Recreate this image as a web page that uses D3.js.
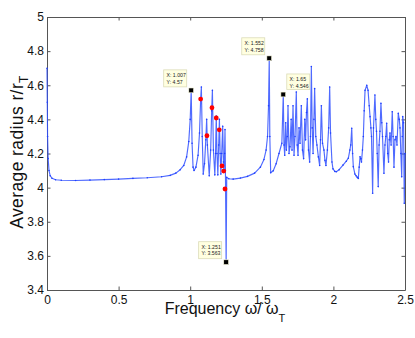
<!DOCTYPE html>
<html>
<head>
<meta charset="utf-8">
<script src="https://cdn.jsdelivr.net/npm/d3@7"></script>
<style>
  body { margin: 0; background: #fff; }
  svg text { font-family: "Liberation Sans", Arial, Helvetica, sans-serif; }
</style>
</head>
<body>
<svg id="chart" width="415" height="338"></svg>
<script>
// frequency (omega / omega_T) and average radius (r / r_T)
var freq = [
  0, 0.002, 0.004, 0.008, 0.014, 0.022, 0.035, 0.06, 0.1, 0.2, 0.3, 0.4, 0.5, 0.6, 0.7, 0.8, 0.86, 0.9, 0.93, 0.955, 0.975, 0.99, 1.0, 1.007,
  1.013, 1.02, 1.027, 1.04, 1.055, 1.065, 1.073, 1.078, 1.084, 1.091, 1.10, 1.109, 1.115, 1.12, 1.133, 1.143, 1.15, 1.155, 1.162, 1.172,
  1.177, 1.182, 1.187, 1.193, 1.199, 1.204, 1.209, 1.214, 1.22, 1.227, 1.232, 1.236, 1.24, 1.243, 1.246, 1.251, 1.255, 1.27,
  1.30, 1.35, 1.40, 1.45, 1.49, 1.515, 1.53, 1.54, 1.547, 1.552, 1.556, 1.562, 1.58, 1.60, 1.62, 1.64, 1.65,
  1.655, 1.66, 1.667, 1.672, 1.678, 1.683, 1.69, 1.697, 1.705, 1.711, 1.718, 1.725, 1.732, 1.741, 1.747, 1.753, 1.76, 1.767, 1.776,
  1.784, 1.792, 1.80, 1.806, 1.812, 1.818, 1.826, 1.834, 1.84, 1.846, 1.852, 1.858, 1.864, 1.869, 1.877, 1.885, 1.895, 1.904, 1.91,
  1.916, 1.924, 1.934, 1.941, 1.948, 1.958, 1.967, 1.974, 1.98, 1.99, 1.997, 2.01, 2.02, 2.04, 2.067, 2.09, 2.104, 2.115, 2.121, 2.128,
  2.134, 2.139, 2.15, 2.158, 2.167, 2.174, 2.18, 2.186, 2.191, 2.196, 2.203, 2.209, 2.215, 2.221, 2.233, 2.242, 2.25, 2.256, 2.262,
  2.266, 2.274, 2.28, 2.29, 2.296, 2.301, 2.306, 2.313, 2.319, 2.325, 2.332, 2.338, 2.343, 2.353, 2.36, 2.366, 2.372, 2.379, 2.385,
  2.39, 2.395, 2.403, 2.411, 2.417, 2.423, 2.43, 2.437, 2.444, 2.453, 2.46, 2.465, 2.471, 2.477, 2.481, 2.484, 2.49, 2.495, 2.5
];
var radius = [
  4.70, 4.50, 4.30, 4.17, 4.10, 4.07, 4.055, 4.046, 4.043, 4.042, 4.044, 4.047, 4.050, 4.054, 4.058, 4.064, 4.072, 4.085, 4.105, 4.13, 4.18, 4.27, 4.40, 4.57,
  4.26, 4.12, 4.10, 4.12, 4.19, 4.32, 4.52, 4.59, 4.30, 4.08, 4.14, 4.28, 4.40, 4.25, 4.07, 4.22, 4.45, 4.57, 4.22, 4.075,
  4.20, 4.42, 4.20, 4.075, 4.25, 4.40, 4.20, 4.08, 4.20, 4.36, 4.15, 4.09, 4.20, 4.34, 4.10, 3.563, 4.06, 4.052,
  4.050, 4.056, 4.066, 4.085, 4.12, 4.165, 4.22, 4.30, 4.48, 4.758, 4.30, 4.087, 4.099, 4.14, 4.20, 4.26, 4.546,
  4.25, 4.19, 4.38, 4.22, 4.30, 4.48, 4.20, 4.24, 4.40, 4.22, 4.48, 4.19, 4.30, 4.56, 4.25, 4.19, 4.35, 4.26, 4.48,
  4.22, 4.17, 4.40, 4.28, 4.44, 4.52, 4.22, 4.15, 4.30, 4.71, 4.35, 4.20, 4.40, 4.58, 4.30, 4.25, 4.18, 4.13, 4.28,
  4.48, 4.26, 4.22, 4.16, 4.13, 4.22, 4.35, 4.59, 4.32, 4.15, 4.11, 4.095, 4.093, 4.105, 4.132, 4.155, 4.172, 4.22, 4.25, 4.348,
  4.20, 4.123, 4.08, 4.07, 4.06, 4.054, 4.12, 4.181, 4.17, 4.15, 4.22, 4.30, 4.45, 4.57, 4.60, 4.57, 4.48, 4.416, 4.35,
  4.30, 3.967, 4.35, 4.543, 4.40, 4.33, 4.20, 4.006, 4.25, 4.33, 4.494, 4.38, 4.30, 4.084, 4.25, 4.30, 4.377, 4.20, 4.15,
  4.28, 4.32, 4.25, 4.445, 4.30, 4.12, 4.28, 4.30, 4.25, 4.435, 4.40, 4.35, 4.20, 4.064, 4.30, 4.416, 4.38, 3.908, 4.20
];

// red markers
var redX = [1.073, 1.117, 1.152, 1.182, 1.203, 1.222, 1.234, 1.243];
var redY = [4.519, 4.304, 4.468, 4.408, 4.339, 4.127, 4.097, 3.992];

// data tips
var tipX = [1.007, 1.552, 1.65, 1.251];
var tipY = [4.57, 4.758, 4.546, 3.563];
var tipLabelX = ["X: 1.007", "X: 1.552", "X: 1.65", "X: 1.251"];
var tipLabelY = ["Y: 4.57", "Y: 4.758", "Y: 4.546", "Y: 3.563"];

var xTicks = [0, 0.5, 1, 1.5, 2, 2.5];
var yTicks = [3.4, 3.6, 3.8, 4, 4.2, 4.4, 4.6, 4.8, 5];

(function() {
var svg = d3.select("#chart");
var mLeft = 47, mRight = 405, mTop = 17, mBottom = 290;

var x = d3.scaleLinear().domain([0, 2.5]).range([mLeft, mRight]);
var y = d3.scaleLinear().domain([3.4, 5]).range([mBottom, mTop]);

var axisColor = "#555";

// axes, ticks pointing inward
function styleAxis(g) {
  g.select(".domain").attr("stroke", axisColor).attr("stroke-width", 1);
  g.selectAll(".tick line").attr("stroke", axisColor);
  g.selectAll(".tick text").attr("fill", "#111").style("font-size", "12px")
    .style("font-family", '"Liberation Sans", Arial, sans-serif');
}

svg.append("g").attr("transform", "translate(0," + mBottom + ")")
  .call(d3.axisBottom(x).tickValues(xTicks).tickFormat(d3.format("")).tickSizeInner(-3.5).tickSizeOuter(0).tickPadding(5.5))
  .call(styleAxis);
svg.append("g").attr("transform", "translate(0," + mTop + ")")
  .call(d3.axisTop(x).tickValues(xTicks).tickFormat("").tickSizeInner(-3.5).tickSizeOuter(0))
  .call(styleAxis);
svg.append("g").attr("transform", "translate(" + mLeft + ",0)")
  .call(d3.axisLeft(y).tickValues(yTicks).tickFormat(d3.format("")).tickSizeInner(-3.5).tickSizeOuter(0).tickPadding(3))
  .call(styleAxis);
svg.append("g").attr("transform", "translate(" + mRight + ",0)")
  .call(d3.axisRight(y).tickValues(yTicks).tickFormat("").tickSizeInner(-3.5).tickSizeOuter(0))
  .call(styleAxis);

// the curve
var pts = freq.map(function(f, i) { return [f, radius[i]]; });
var line = d3.line().x(function(d) { return x(d[0]); }).y(function(d) { return y(d[1]); });

svg.append("path")
  .datum(pts)
  .attr("d", line)
  .attr("fill", "none")
  .attr("stroke", "#3050ff")
  .attr("stroke-width", 1.15)
  .attr("stroke-opacity", 0.85)
  .attr("stroke-linejoin", "round");

svg.selectAll("circle.pt").data(pts).enter().append("circle")
  .attr("class", "pt")
  .attr("cx", function(d) { return x(d[0]); })
  .attr("cy", function(d) { return y(d[1]); })
  .attr("r", 0.8)
  .attr("fill", "#2040ff");

// red points
svg.selectAll("circle.red").data(redX).enter().append("circle")
  .attr("class", "red")
  .attr("cx", function(d) { return x(d); })
  .attr("cy", function(d, i) { return y(redY[i]); })
  .attr("r", 2.4)
  .attr("fill", "#ff0000");

// data tips
var tipW = 23, tipH = 17;
tipX.forEach(function(tx, i) {
  var mx = x(tx), my = y(tipY[i]);
  var onRight = (i === 2);
  var bx = onRight ? mx + 3.5 : mx - 27.5;
  var by = my - 20.5;
  var g = svg.append("g");
  g.append("rect")
    .attr("x", bx).attr("y", by).attr("width", tipW).attr("height", onRight ? 15.5 : tipH)
    .attr("fill", "#ffffe1").attr("stroke", "#dcdcb8").attr("stroke-width", 0.8);
  g.append("text").attr("x", bx + 2.8).attr("y", by + 7.5)
    .style("font-size", "5.2px").attr("fill", "#222").text(tipLabelX[i]);
  g.append("text").attr("x", bx + 2.8).attr("y", by + 13.8)
    .style("font-size", "5.2px").attr("fill", "#222").text(tipLabelY[i]);
  g.append("rect")
    .attr("x", mx - 2.4).attr("y", my - 2.4).attr("width", 4.8).attr("height", 4.8)
    .attr("fill", "#000").attr("stroke", "#ffffe1").attr("stroke-width", 0.6);
});

// axis labels
var xl = svg.append("text")
  .attr("x", (mLeft + mRight) / 2 - 1).attr("y", 314)
  .attr("text-anchor", "middle")
  .style("font-size", "16px").attr("fill", "#111");
xl.append("tspan").text("Frequency \u03c9/ \u03c9");
xl.append("tspan").attr("dy", 8).style("font-size", "11px").text("T");

var yl = svg.append("text")
  .attr("transform", "translate(23,152) rotate(-90)")
  .attr("text-anchor", "middle")
  .style("font-size", "17.5px").style("letter-spacing", "0.4px").attr("fill", "#111");
yl.append("tspan").text("Average radius r/r");
yl.append("tspan").attr("dy", 5).style("font-size", "12px").text("T");
})();
</script>
</body>
</html>
